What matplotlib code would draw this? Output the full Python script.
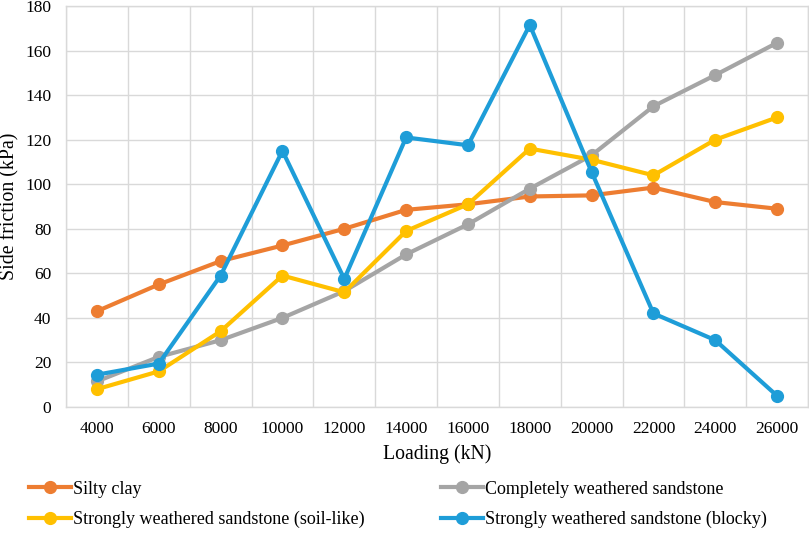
import numpy as np
import matplotlib

matplotlib.use("Agg")
import matplotlib.pyplot as plt

loads = [4000, 6000, 8000, 10000, 12000, 14000, 16000, 18000, 20000, 22000, 24000, 26000]
silty_clay = [43, 55, 65.5, 72.5, 80, 88.5, 91, 94.5, 95, 98.5, 92, 89]
completely_weathered = [11.5, 22.5, 30, 40, 52, 68.5, 82, 98, 113, 135, 149, 163.5]
soil_like = [8, 16, 34, 59, 51.5, 79, 91, 116, 111, 104, 120, 130]
blocky = [14.5, 19.5, 59, 115, 57.5, 121, 117.5, 171.5, 105.5, 42, 30, 5]

series = [
    ("Silty clay", silty_clay, "#ed7d31"),
    ("Completely weathered sandstone", completely_weathered, "#a5a5a5"),
    ("Strongly weathered sandstone (soil-like)", soil_like, "#ffc000"),
    ("Strongly weathered sandstone (blocky)", blocky, "#1e9dd8"),
]

plt.rcParams["font.family"] = ["Liberation Serif", "DejaVu Serif"]

fig = plt.figure(figsize=(8.09, 5.33), dpi=100)
ax = fig.add_axes([0.0816, 0.2364, 0.9172, 0.7523])

x = np.arange(len(loads))
lines = {}
for name, vals, color in series:
    (ln,) = ax.plot(x, vals, color=color, lw=3, marker="o", ms=8.5, label=name, zorder=3)
    lines[name] = ln

ax.set_xlim(-0.5, len(loads) - 0.5)
ax.set_ylim(0, 180)
ax.set_yticks(range(0, 181, 20))
ax.set_xticks(x)
ax.set_xticklabels([str(v) for v in loads])
ax.set_xticks(np.arange(-0.5, len(loads), 1), minor=True)

ax.grid(False)
ax.yaxis.grid(True, color="#d9d9d9", lw=1)
ax.xaxis.grid(True, which="minor", color="#d9d9d9", lw=1)
for side, sp in ax.spines.items():
    sp.set_color("#d9d9d9")
    sp.set_linewidth(1)
ax.set_axisbelow(True)
ax.tick_params(axis="both", which="both", length=0, labelsize=12.5)
ax.tick_params(axis="x", pad=10)
ax.tick_params(axis="y", pad=10.5)

ax.set_xlabel("Loading (kN)", fontsize=14.2, labelpad=5)
ax.set_ylabel("Side friction (kPa)", fontsize=14.3, labelpad=4)

order = ["Silty clay", "Strongly weathered sandstone (soil-like)",
         "Completely weathered sandstone", "Strongly weathered sandstone (blocky)"]
fig.legend([lines[n] for n in order], order, ncol=2, loc="upper left",
           bbox_to_anchor=(0.027, 0.112), frameon=False, fontsize=13,
           handlelength=2.35, handletextpad=0.1, columnspacing=4.2, labelspacing=0.75,
           borderaxespad=0)

fig.savefig("out.png", dpi=100)
